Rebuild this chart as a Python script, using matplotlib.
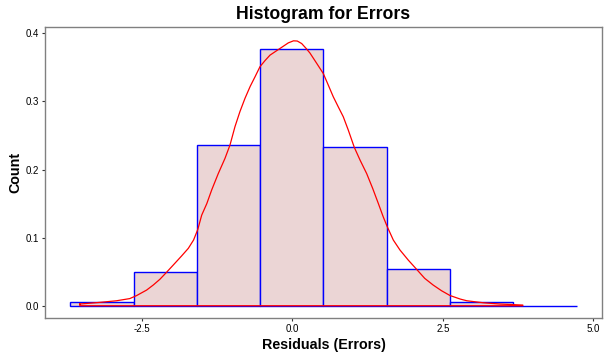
import numpy as np
import matplotlib
matplotlib.use("Agg")
import matplotlib.pyplot as plt

plt.rcParams['font.family'] = ['Liberation Sans', 'DejaVu Sans']

# Histogram data (density scale)
bin_edges = [-3.69, -2.625, -1.578, -0.532, 0.515, 1.578, 2.625, 3.671, 4.724]
bin_heights = [0.0054, 0.049, 0.2355, 0.3765, 0.2326, 0.0534, 0.005, 0.0]

# Kernel density curve
dens_x = [-3.53, -3.19, -2.92, -2.70, -2.585, -2.42, -2.31, -2.20, -2.09, -1.977,
          -1.84, -1.727, -1.64, -1.57, -1.505, -1.42, -1.339, -1.23, -1.118, -1.035,
          -0.952, -0.87, -0.786, -0.70, -0.62, -0.537, -0.453, -0.37, -0.26, -0.15,
          -0.066, 0.02, 0.083, 0.156, 0.228, 0.294, 0.405, 0.515, 0.598, 0.68,
          0.764, 0.847, 0.93, 1.03, 1.125, 1.236, 1.335, 1.43, 1.51, 1.578,
          1.678, 1.789, 1.927, 2.066, 2.20, 2.34, 2.48, 2.62, 2.79, 2.90,
          3.17, 3.45, 3.83]
dens_y = [0.0025, 0.005, 0.0073, 0.0105, 0.0150, 0.023, 0.0304, 0.0388, 0.049, 0.0598,
          0.073, 0.0843, 0.0965, 0.112, 0.133, 0.150, 0.170, 0.194, 0.2164, 0.236,
          0.263, 0.285, 0.3045, 0.322, 0.336, 0.351, 0.360, 0.368, 0.3745, 0.381,
          0.386, 0.389, 0.3887, 0.385, 0.378, 0.371, 0.356, 0.341, 0.324, 0.307,
          0.292, 0.2775, 0.258, 0.2326, 0.214, 0.194, 0.1724, 0.150, 0.1307, 0.116,
          0.0965, 0.0818, 0.067, 0.0534, 0.0402, 0.0304, 0.022, 0.0150, 0.0098, 0.0073,
          0.0044, 0.0025, 0.001]

x_ticks = [-2.5, 0.0, 2.5, 5.0]
x_tick_labels = ["-2.5", "0.0", "2.5", "5.0"]
y_ticks = [0.0, 0.1, 0.2, 0.3, 0.4]
y_tick_labels = ["0.0", "0.1", "0.2", "0.3", "0.4"]

fig = plt.figure(figsize=(6.08, 3.57), dpi=100)
ax = fig.add_axes([45/608, 1-318/357, (602-45)/608, (318-27)/357])

edges = np.array(bin_edges)
ax.bar(edges[:-1], bin_heights, width=np.diff(edges), align='edge',
       color='#EBD5D5', edgecolor='#0000FF', linewidth=1.0, zorder=2)

# density outline (polygon closed along baseline)
px = list(dens_x) + [dens_x[-1], dens_x[0], dens_x[0]]
py = list(dens_y) + [0.0, 0.0, dens_y[0]]
ax.plot(px, py, color='#FF0000', linewidth=0.9, zorder=3)

ax.set_xlim(-4.108, 5.145)
ax.set_ylim(-0.018, 0.4093)
ax.set_xticks(x_ticks)
ax.set_xticklabels(x_tick_labels)
ax.set_yticks(y_ticks)
ax.set_yticklabels(y_tick_labels)
ax.tick_params(axis='both', length=2.5, width=0.8, color='#333333',
               labelsize=7, labelcolor='black', pad=2)

for s in ax.spines.values():
    s.set_color('#808080')
    s.set_linewidth(1.0)

ax.set_title("Histogram for Errors", fontsize=12.7, fontweight='bold', pad=6)
ax.set_xlabel("Residuals (Errors)", fontsize=10.3, fontweight='bold', labelpad=3)
ax.set_ylabel("Count", fontsize=10.3, fontweight='bold', labelpad=2)

fig.savefig("out.png", dpi=100, facecolor='white')
